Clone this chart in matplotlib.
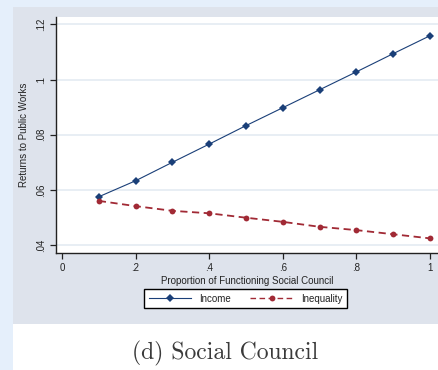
import matplotlib
matplotlib.use("Agg")
import matplotlib.pyplot as plt
from matplotlib.patches import Rectangle
from matplotlib.lines import Line2D

# Data
proportion = [0.1, 0.2, 0.3, 0.4, 0.5, 0.6, 0.7, 0.8, 0.9, 1.0]
income = [0.0575, 0.0633, 0.0700, 0.0766, 0.0833, 0.0898, 0.0963, 0.1028, 0.1094, 0.1159]
inequality = [0.0560, 0.0541, 0.0524, 0.0515, 0.0499, 0.0484, 0.0466, 0.0454, 0.0439, 0.0424]
x_ticks = [0, 0.2, 0.4, 0.6, 0.8, 1.0]
x_ticklabels = ["0", ".2", ".4", ".6", ".8", "1"]
y_ticks = [0.04, 0.06, 0.08, 0.10, 0.12]
y_ticklabels = [".04", ".06", ".08", ".1", ".12"]

W, H = 438, 370
fig = plt.figure(figsize=(W / 100, H / 100), dpi=100)
fig.patch.set_facecolor("white")

def px_rect(x0, y0, x1, y1, color):
    fig.patches.append(Rectangle((x0 / W, 1 - y1 / H), (x1 - x0) / W, (y1 - y0) / H,
                                 transform=fig.transFigure, facecolor=color,
                                 edgecolor="none", zorder=-10))

# page background and graph region
px_rect(0, 0, W, 7, "#e5effb")
px_rect(0, 0, 13, H, "#e5effb")
px_rect(13, 7, W, 324, "#dee3ec")

font = "Liberation Sans"
ink = "#222222"

ax = fig.add_axes([56 / W, 1 - 253 / H, (W - 56) / W, (253 - 16.7) / H])
ax.set_facecolor("white")
ax.set_xlim(-0.0163, 1.0217)
ax.set_ylim(0.0371, 0.1228)

for yv in y_ticks:
    ax.axhline(yv, color="#e2e9f1", lw=1.1, zorder=0)

c_inc = "#1a3f78"
c_ineq = "#a12a35"
ax.plot(proportion, income, color=c_inc, lw=0.8, marker="D", ms=3.6,
        markeredgewidth=0, zorder=3)
ax.plot(proportion, inequality, color=c_ineq, lw=1.3, ls=(0, (4, 2.5)),
        marker="o", ms=4.2, markeredgewidth=0, zorder=3)

for s in ["top", "right"]:
    ax.spines[s].set_visible(False)
for s in ["left", "bottom"]:
    ax.spines[s].set_color(ink)
    ax.spines[s].set_linewidth(1.0)

ax.set_xticks(x_ticks)
ax.set_xticklabels(x_ticklabels, fontfamily=font, fontsize=7, color=ink)
ax.set_yticks(y_ticks)
ax.set_yticklabels(y_ticklabels, fontfamily=font, fontsize=7, color=ink,
                   rotation=90, va="center")
ax.tick_params(axis="both", direction="out", length=4, width=0.9, color=ink, pad=3)

ax.set_xlabel("Proportion of Functioning Social Council", fontfamily=font,
              fontsize=7, color=ink, labelpad=2)
ax.set_ylabel("Returns to Public Works", fontfamily=font, fontsize=7,
              color=ink, labelpad=5)

handles = [
    Line2D([], [], color=c_inc, lw=0.8, marker="D", ms=3.6, markeredgewidth=0),
    Line2D([], [], color=c_ineq, lw=1.0, ls=(0, (4, 2.5)), marker="o", ms=4.2,
           markeredgewidth=0),
]
leg = fig.legend(handles, ["Income", "Inequality"], ncol=2,
                 loc="center", bbox_to_anchor=(245.5 / W, 1 - 298.5 / H),
                 prop={"family": font, "size": 7}, frameon=True, fancybox=False,
                 edgecolor="black", facecolor="white", framealpha=1,
                 handlelength=4.4, columnspacing=2.0, handletextpad=0.8,
                 borderpad=0.45)
leg.get_frame().set_linewidth(1.0)
for t in leg.get_texts():
    t.set_color(ink)

fig.text(225 / W, 1 - 353 / H, "(d) Social Council", fontfamily="cmr10",
         fontsize=17, color="#3a3a3a", ha="center", va="center")

fig.savefig("out.png", dpi=100, facecolor=fig.get_facecolor())
